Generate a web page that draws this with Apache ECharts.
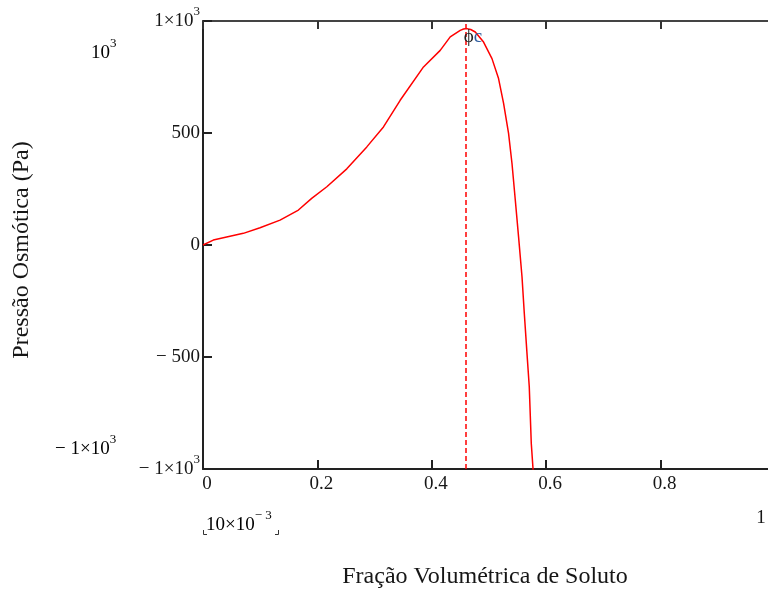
<!DOCTYPE html>
<html><head><meta charset="utf-8">
<script src="https://cdn.jsdelivr.net/npm/echarts@6.0.0/dist/echarts.min.js"></script>
<style>html,body{margin:0;padding:0;background:#fff;overflow:hidden}#c{width:777px;height:594px}</style>
</head><body><div id="c"></div><script>
// Volume fraction of solute (x) and osmotic pressure in Pa (y)
const phi = [0, 0.018, 0.0705, 0.0997, 0.1347, 0.1668, 0.19, 0.2165, 0.2514, 0.2864, 0.3155, 0.3447, 0.3855, 0.4147, 0.4322, 0.4497, 0.4555, 0.4614, 0.468, 0.476, 0.4905, 0.5052, 0.5167, 0.5255, 0.5342, 0.5402, 0.546, 0.5517, 0.5577, 0.5617, 0.5664, 0.5704, 0.5739, 0.5769, 0.578];
const pressure = [0, 22, 52, 77, 111, 156, 208, 260, 340, 438, 527, 646, 795, 869, 929, 958, 964, 966, 962, 951, 906, 832, 743, 632, 498, 364, 200, 36, -142, -305, -484, -633, -885, -997, -1060];
const phiCritical = 0.4614;
const markerLabelY = 933;
const xTickValues = [0, 0.2, 0.4, 0.6, 0.8];
const xTickLabels = ['0', '0.2', '0.4', '0.6', '0.8'];
const yTickValues = [-1000, -500, 0, 500, 1000];
const yTickLabels = ['− 1×10^3', '− 500', '0', '500', '1×10^3'];
const xTitle = 'Fração Volumétrica de Soluto';
const yTitle = 'Pressão Osmótica (Pa)';
const yUpperLimit = '10^3';
const yLowerLimit = '− 1×10^3';
const xLowerLimit = '10×10^− 3';
const xUpperLimit = '1';

const FONT = 'Liberation Serif';
const TXT = '#161616';
function sup(t) {
  const i = t.indexOf('^');
  if (i < 0) return '{n|' + t + '}';
  return '{n|' + t.slice(0, i) + '}{s|' + t.slice(i + 1) + '}';
}
const richStyle = {
  n: { fontFamily: FONT, fontSize: 19, color: TXT, lineHeight: 32 },
  s: { fontFamily: FONT, fontSize: 13, color: TXT, lineHeight: 13, verticalAlign: 'top' }
};

const chart = echarts.init(document.getElementById('c'));
const data = phi.map((x, i) => [x, pressure[i]]);

const option = {
  animation: false,
  backgroundColor: '#fff',
  grid: { left: 203, right: 2, top: 21, bottom: 125, containLabel: false },
  xAxis: [{
    type: 'value', min: 0, max: 1, interval: 0.2, position: 'bottom',
    axisLine: { show: true, onZero: false, lineStyle: { color: '#222', width: 2 } },
    axisTick: { show: true, inside: true, length: 9, lineStyle: { color: '#222', width: 2 } },
    splitLine: { show: false },
    axisLabel: {
      show: true, margin: 6, showMaxLabel: false,
      fontFamily: FONT, fontSize: 19, color: TXT, padding: [0, 0, 0, 8],
      formatter: v => { const k = xTickValues.findIndex(t => Math.abs(t - v) < 1e-9); return k >= 0 ? xTickLabels[k] : ''; }
    }
  }, {
    type: 'value', min: 0, max: 1, interval: 0.2, position: 'top',
    axisLine: { show: true, onZero: false, lineStyle: { color: '#444', width: 2 } },
    axisTick: { show: true, inside: true, length: 8, lineStyle: { color: '#333', width: 2 } },
    splitLine: { show: false }, axisLabel: { show: false }
  }],
  yAxis: [{
    type: 'value', min: -1000, max: 1000, interval: 500, position: 'left',
    axisLine: { show: true, onZero: false, lineStyle: { color: '#222', width: 2 } },
    axisTick: { show: true, inside: true, length: 9, lineStyle: { color: '#222', width: 2 } },
    splitLine: { show: false },
    axisLabel: {
      show: true, margin: 3,
      formatter: v => { const k = yTickValues.indexOf(v); return k >= 0 ? sup(yTickLabels[k]) : ''; },
      rich: richStyle
    }
  }],
  series: [{
    type: 'line', data: data, xAxisIndex: 0, yAxisIndex: 0,
    showSymbol: false, symbol: 'none', clip: true, smooth: false,
    lineStyle: { color: '#ff0000', width: 1.5 },
    markLine: {
      silent: true, symbol: ['none', 'none'],
      label: { show: false },
      lineStyle: { color: '#ff0000', type: [5, 3], width: 1.5 },
      data: [{ xAxis: phiCritical }]
    },
    markPoint: {
      silent: true,
      symbol: 'circle', symbolSize: 1,
      itemStyle: { color: 'rgba(0,0,0,0)' },
      label: {
        show: true, position: 'inside', offset: [6, 1],
        formatter: '{p|ϕ}{c|c}',
        rich: {
          p: { fontFamily: FONT, fontSize: 19, color: '#222' },
          c: { fontFamily: FONT, fontSize: 19, color: '#2f5c9e' }
        }
      },
      data: [{ coord: [phiCritical, markerLabelY] }]
    }
  }],
  graphic: [
    { type: 'text', left: 91, top: 37, style: { text: sup(yUpperLimit), rich: richStyle } },
    { type: 'text', left: 55, top: 433, style: { text: sup(yLowerLimit), rich: richStyle } },
    { type: 'text', left: 206, top: 509, style: { text: sup(xLowerLimit), rich: richStyle } },
    { type: 'polyline', shape: { points: [[203.5, 530], [203.5, 534.5], [207, 534.5]] }, style: { stroke: '#333', lineWidth: 1, fill: null } },
    { type: 'polyline', shape: { points: [[275, 534.5], [278.5, 534.5], [278.5, 530]] }, style: { stroke: '#333', lineWidth: 1, fill: null } },
    { type: 'text', x: 761, y: 518, style: { text: xUpperLimit, fontFamily: FONT, fontSize: 19, fill: TXT, textAlign: 'center', textVerticalAlign: 'middle' } },
    { type: 'text', x: 485, y: 577, style: { text: xTitle, fontFamily: FONT, fontSize: 24, fill: TXT, textAlign: 'center', textVerticalAlign: 'middle' } },
    { type: 'text', x: 22, y: 250, rotation: Math.PI / 2, style: { text: yTitle, fontFamily: FONT, fontSize: 24, fill: TXT, textAlign: 'center', textVerticalAlign: 'middle' } }
  ]
};
chart.setOption(option);
</script></body></html>
